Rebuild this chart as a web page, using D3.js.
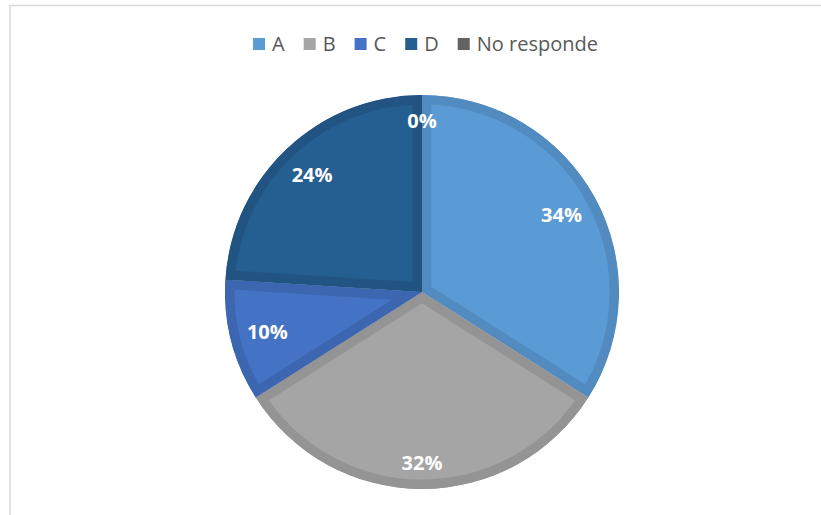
<!DOCTYPE html>
<html>
<head>
<meta charset="utf-8">
<script src="https://cdn.jsdelivr.net/npm/d3@7"></script>
<style>
  html, body { margin: 0; padding: 0; background: #fff; }
  svg { display: block; }
</style>
</head>
<body>
<svg id="chart" width="821" height="515"></svg>
<script>
// Answer shares (percent)
const categories = ["A", "B", "C", "D", "No responde"];
const values = [34, 32, 10, 24, 0];
const colors = ["#5B9BD5", "#A5A5A5", "#4472C4", "#255E91", "#636363"];

const W = 821, H = 515;
const cx = 422, cy = 292, radius = 197;
const band = 9.5;          // darker rim drawn inside every slice
const labelReach = 182;    // labels sit just inside the outer edge

const svg = d3.select("#chart");

// chart area frame
svg.append("rect")
  .attr("x", 10).attr("y", 5.5)
  .attr("width", 900).attr("height", 600)
  .attr("fill", "#fff")
  .attr("stroke", "#d9d9d9")
  .attr("stroke-width", 1.5);

const data = categories.map((c, i) => ({ cat: c, value: values[i], color: colors[i] }));

const pie = d3.pie().sort(null).value(d => d.value).startAngle(0).endAngle(2 * Math.PI);
const arcs = pie(data);
const arcGen = d3.arc().innerRadius(0).outerRadius(radius);

const defs = svg.append("defs");
const g = svg.append("g").attr("transform", `translate(${cx},${cy})`);

arcs.forEach((a, i) => {
  if (a.endAngle - a.startAngle <= 0) return;
  const id = "clip-" + i;
  defs.append("clipPath").attr("id", id)
    .append("path").attr("d", arcGen(a));
  g.append("path")
    .attr("d", arcGen(a))
    .attr("fill", a.data.color)
    .attr("stroke", d3.color(a.data.color).darker(0.3).formatHex())
    .attr("stroke-width", band * 2)
    .attr("stroke-linejoin", "miter")
    .attr("clip-path", `url(#${id})`);
});

// percentage labels, pushed outward until the box meets labelReach
const total = d3.sum(values);
arcs.forEach(a => {
  const pct = Math.round(a.data.value / total * 100) + "%";
  const t = g.append("text")
    .attr("text-anchor", "middle")
    .attr("dy", "0.35em")
    .attr("fill", "#fff")
    .attr("font-family", "'Open Sans', sans-serif")
    .attr("font-weight", "bold")
    .attr("font-size", 20)
    .text(pct);
  const w = t.node().getComputedTextLength();
  const h = 20;
  const mid = (a.startAngle + a.endAngle) / 2;
  const dx = Math.sin(mid), dy = -Math.cos(mid);
  const far = r => {
    let m = 0;
    for (const sx of [-1, 1]) for (const sy of [-1, 1]) {
      const x = r * dx + sx * w / 2, y = r * dy + sy * h / 2;
      m = Math.max(m, Math.hypot(x, y));
    }
    return m;
  };
  let lo = 0, hi = radius;
  for (let k = 0; k < 40; k++) {
    const m = (lo + hi) / 2;
    if (far(m) > labelReach) hi = m; else lo = m;
  }
  t.attr("x", lo * dx).attr("y", lo * dy);
});

// legend across the top
const legend = svg.append("g");
let x = 0;
const gap = 19;
data.forEach(d => {
  const it = legend.append("g");
  it.append("rect").attr("x", 0).attr("y", -6).attr("width", 12).attr("height", 12).attr("fill", d.color);
  const tx = it.append("text")
    .attr("x", 19).attr("y", 0).attr("dy", "0.36em")
    .attr("fill", "#595959")
    .attr("font-family", "'Open Sans', sans-serif")
    .attr("font-size", 20)
    .text(d.cat);
  const tw = tx.node().getComputedTextLength();
  it.attr("transform", `translate(${x},0)`);
  x += 19 + tw + gap;
});
const legendWidth = x - gap;
legend.attr("transform", `translate(${425.5 - legendWidth / 2},44)`);
</script>
</body>
</html>
